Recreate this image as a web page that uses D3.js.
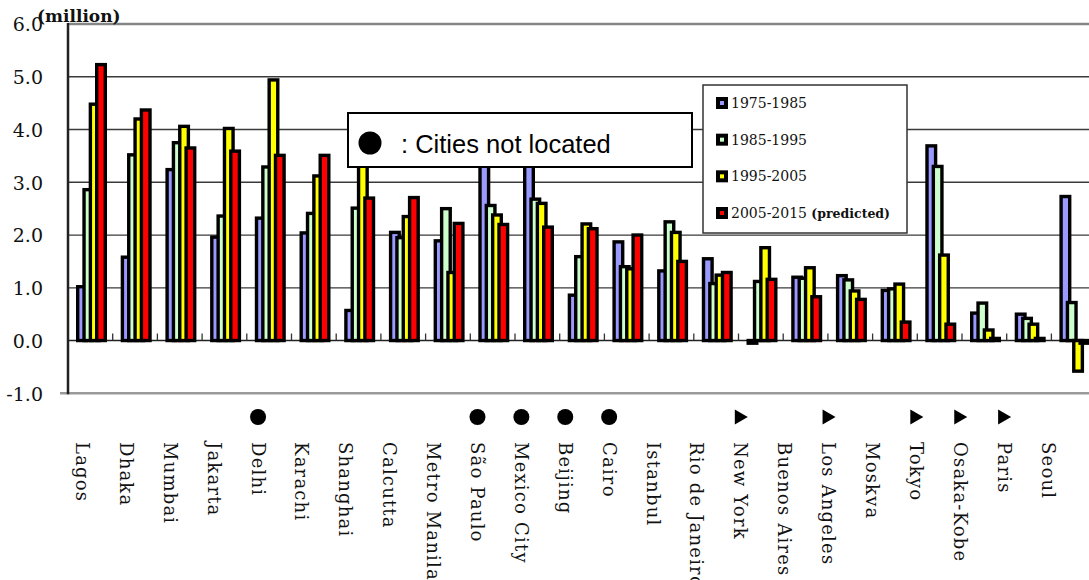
<!DOCTYPE html>
<html>
<head>
<meta charset="utf-8">
<script src="https://cdn.jsdelivr.net/npm/d3@7"></script>
<style>
  html, body { margin: 0; padding: 0; background: #fff; }
  svg { display: block; }
</style>
</head>
<body>
<svg id="chart" width="1089" height="580"></svg>
<script>
// ---- data ----
const cities = ["Lagos","Dhaka","Mumbai","Jakarta","Delhi","Karachi","Shanghai","Calcutta","Metro Manila","São Paulo","Mexico City","Beijing","Cairo","Istanbul","Rio de Janeiro","New York","Buenos Aires","Los Angeles","Moskva","Tokyo","Osaka-Kobe","Paris","Seoul"];
const seriesNames = ["1975-1985","1985-1995","1995-2005","2005-2015"];
const seriesNotes = ["","","","(predicted)"];
const v1975 = [1.02,1.58,3.24,1.96,2.32,2.04,0.57,2.05,1.89,3.65,3.55,0.86,1.87,1.32,1.55,-0.05,1.20,1.23,0.95,3.69,0.52,0.50,2.73];
const v1985 = [2.86,3.52,3.75,2.36,3.29,2.41,2.51,1.95,2.50,2.56,2.68,1.59,1.40,2.25,1.08,1.12,1.18,1.15,0.98,3.30,0.71,0.42,0.72];
const v1995 = [4.48,4.20,4.06,4.02,4.94,3.12,3.60,2.35,1.29,2.38,2.60,2.21,1.36,2.05,1.24,1.76,1.38,0.94,1.07,1.62,0.20,0.31,-0.58];
const v2005 = [5.23,4.37,3.65,3.59,3.51,3.51,2.70,2.71,2.22,2.20,2.15,2.12,2.00,1.50,1.29,1.16,0.83,0.78,0.35,0.31,0.04,0.04,-0.05];
const yTicks = [-1,0,1,2,3,4,5,6];
const notLocated = ["Delhi","São Paulo","Mexico City","Beijing","Cairo"];
const triangleMarked = ["New York","Los Angeles","Tokyo","Osaka-Kobe","Paris"];
const seriesColors = ["#9999FF","#CCFFCC","#FFFF00","#FF0000"];
const unitLabel = "(million)";
const noteText = ": Cities not located";

const seriesValues = [v1975, v1985, v1995, v2005];

// ---- scales ----
const svg = d3.select("#chart");
const plotLeft = 68, plotTop = 24, plotBottom = 393.3, band = 44.7;
const x = d3.scaleBand().domain(cities).range([plotLeft, plotLeft + cities.length * band]);
const xs = d3.scalePoint().domain(seriesNames).range([0, 19]);
const y = d3.scaleLinear().domain([-1, 6]).range([plotBottom, plotTop]);
const xLab = d3.scalePoint().domain(cities).range([82.5, 1048]);
const barW = 12, groupPad = 8, sw = 3.4;

// ---- gridlines ----
const g = svg.append("g");
g.selectAll("line.grid").data(yTicks.filter(t => t > 0 && t < 6)).join("line")
  .attr("x1", plotLeft).attr("x2", 1089)
  .attr("y1", d => y(d)).attr("y2", d => y(d))
  .attr("stroke", "#3a3a3a").attr("stroke-width", 1.3);
g.append("line").attr("x1", plotLeft).attr("x2", 1089).attr("y1", y(6)).attr("y2", y(6))
  .attr("stroke", "#858585").attr("stroke-width", 2.5);
g.append("line").attr("x1", plotLeft - 8).attr("x2", 1089).attr("y1", y(-1)).attr("y2", y(-1))
  .attr("stroke", "#9a9a9a").attr("stroke-width", 2.5);
g.append("line").attr("x1", plotLeft).attr("x2", 1089).attr("y1", y(0)).attr("y2", y(0))
  .attr("stroke", "#222").attr("stroke-width", 1.5);
g.selectAll("line.ctick").data(cities.slice(1)).join("line")
  .attr("x1", d => x(d)).attr("x2", d => x(d))
  .attr("y1", y(0)).attr("y2", y(0) - 7)
  .attr("stroke", "#333").attr("stroke-width", 1.3);

// ---- bars ----
seriesNames.forEach((s, si) => {
  svg.append("g").selectAll("rect").data(cities).join("rect")
    .attr("x", c => x(c) + groupPad + xs(s) + sw / 2)
    .attr("width", barW - sw)
    .attr("y", (c, i) => Math.min(y(seriesValues[si][i]), y(0)))
    .attr("height", (c, i) => Math.abs(y(seriesValues[si][i]) - y(0)))
    .attr("fill", seriesColors[si])
    .attr("stroke", "#000").attr("stroke-width", sw)
    .attr("stroke-linejoin", "miter");
});

svg.append("line").attr("x1", plotLeft).attr("x2", plotLeft).attr("y1", y(6) - 1).attr("y2", y(-1) + 1)
  .attr("stroke", "#222").attr("stroke-width", 2.5);

// ---- y axis labels ----
const fmt = d3.format(".1f");
const yAxis = d3.axisLeft(y).tickValues(yTicks).tickFormat(d => fmt(d).replace("\u2212", "-")).tickSize(0).tickPadding(0);
const ya = svg.append("g").attr("transform", "translate(43,0)").call(yAxis);
ya.select(".domain").remove();
ya.selectAll("text").attr("font-family", "DejaVu Serif").attr("font-size", 19).attr("fill", "#111")
  .attr("dy", "0.36em");

svg.append("text").attr("x", 37).attr("y", 22).text(unitLabel)
  .attr("font-family", "DejaVu Serif").attr("font-weight", "bold").attr("font-size", 17).attr("fill", "#111");

// ---- annotation box ----
svg.append("rect").attr("x", 348).attr("y", 113).attr("width", 344).attr("height", 54)
  .attr("fill", "#fff").attr("stroke", "#000").attr("stroke-width", 2);
svg.append("circle").attr("cx", 370).attr("cy", 143).attr("r", 11.5).attr("fill", "#000");
svg.append("text").attr("x", 401).attr("y", 153).text(noteText)
  .attr("font-family", "Liberation Sans, Arial, sans-serif").attr("font-size", 25.5).attr("fill", "#000");

// ---- legend ----
const lg = svg.append("g");
lg.append("rect").attr("x", 703).attr("y", 85).attr("width", 204).attr("height", 148)
  .attr("fill", "#fff").attr("stroke", "#333").attr("stroke-width", 1.5);
const legY = d3.scalePoint().domain(seriesNames).range([108, 218]);
lg.selectAll("rect.sw").data(seriesNames).join("rect")
  .attr("x", 718).attr("y", d => legY(d) - 9).attr("width", 8).attr("height", 8)
  .attr("fill", (d, i) => seriesColors[i]).attr("stroke", "#000").attr("stroke-width", 4);
const lt = lg.selectAll("text.lt").data(seriesNames).join("text")
  .attr("x", 731).attr("y", d => legY(d))
  .attr("font-family", "DejaVu Serif").attr("font-size", 14).attr("fill", "#111");
lt.append("tspan").text(d => d);
lt.append("tspan").text((d, i) => seriesNotes[i] ? " " + seriesNotes[i] : "")
  .attr("font-weight", "bold").attr("font-size", 12.5);

// ---- category labels ----
svg.append("g").selectAll("text").data(cities).join("text")
  .attr("transform", d => `translate(${xLab(d)},442) rotate(90)`)
  .attr("dominant-baseline", "central")
  .attr("font-family", "DejaVu Serif").attr("font-size", 18).attr("letter-spacing", 1.2)
  .attr("fill", "#111")
  .text(d => d);

svg.append("g").selectAll("circle").data(notLocated).join("circle")
  .attr("cx", d => xLab(d)).attr("cy", 417).attr("r", 8).attr("fill", "#000");
svg.append("g").selectAll("path").data(triangleMarked).join("path")
  .attr("d", d => { const cx = xLab(d), cy = 417; return `M${cx-6},${cy-7.5}L${cx+7},${cy}L${cx-6},${cy+7.5}Z`; })
  .attr("fill", "#000");
</script>
</body>
</html>
